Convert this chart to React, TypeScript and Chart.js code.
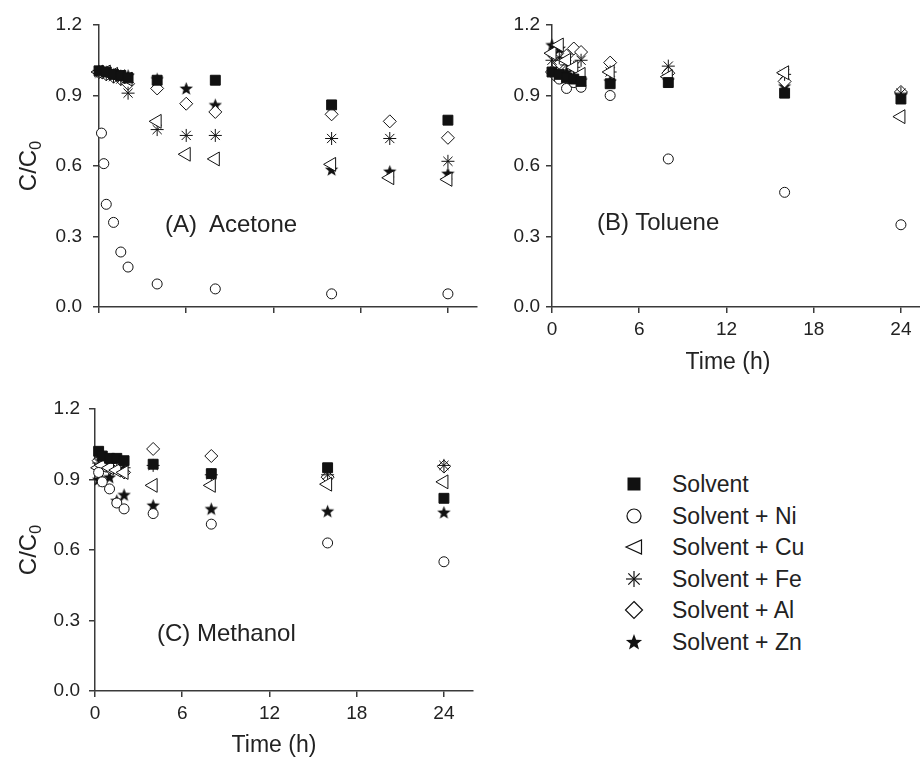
import React, { useEffect, useRef } from 'react';
import { Chart, registerables } from 'chart.js';
Chart.register(...registerables);

// ---------- data ----------
const yTicks = [0, 0.3, 0.6, 0.9, 1.2];
const xTicks = [0, 6, 12, 18, 24];
const seriesNames = ['Solvent', 'Solvent + Ni', 'Solvent + Cu', 'Solvent + Fe', 'Solvent + Al', 'Solvent + Zn'];
const panelTitles = ['(A)  Acetone', '(B) Toluene', '(C) Methanol'];
const xTitle = 'Time (h)';

// (A) Acetone
const aceSolventT = [0, 0.5, 1, 1.5, 2, 4, 8, 16, 24];
const aceSolventV = [1.005, 1.0, 0.99, 0.985, 0.975, 0.965, 0.965, 0.86, 0.795];
const aceNiT = [0.17, 0.33, 0.5, 1, 1.5, 2, 4, 8, 16, 24];
const aceNiV = [0.74, 0.61, 0.437, 0.36, 0.234, 0.17, 0.098, 0.077, 0.056, 0.056];
const aceMetalT = [0, 0.5, 1, 1.5, 2, 4, 6, 8, 16, 20, 24];
const aceCuV = [1.0, 1.0, 0.99, 0.98, 0.97, 0.79, 0.65, 0.63, 0.607, 0.55, 0.543];
const aceFeV = [1.0, 0.99, 0.98, 0.97, 0.91, 0.755, 0.73, 0.73, 0.717, 0.717, 0.62];
const aceAlV = [1.0, 0.99, 0.98, 0.97, 0.95, 0.93, 0.865, 0.83, 0.82, 0.79, 0.72];
const aceZnV = [1.0, 1.0, 0.99, 0.985, 0.985, 0.97, 0.93, 0.86, 0.585, 0.577, 0.568];

// (B) Toluene
const tolT = [0, 0.5, 1, 1.5, 2, 4, 8, 16, 24];
const tolNiT = [0.33, 0.5, 1, 1.5, 2, 4, 8, 16, 24];
const tolSolventV = [1.0, 0.99, 0.975, 0.97, 0.96, 0.95, 0.955, 0.91, 0.885];
const tolNiV = [0.98, 0.97, 0.93, 0.955, 0.935, 0.9, 0.63, 0.488, 0.35];
const tolCuV = [1.08, 1.115, 1.05, 1.02, 0.99, 1.0, 0.98, 0.997, 0.81];
const tolFeV = [1.05, 1.06, 1.03, 1.02, 1.05, 1.0, 1.025, 0.99, 0.91];
const tolAlV = [1.0, 1.04, 1.07, 1.1, 1.085, 1.04, 0.995, 0.96, 0.915];
const tolZnV = [1.115, 1.1, 1.0, 0.98, 0.965, 0.96, 0.965, 0.94, 0.9];

// (C) Methanol
const metT = [0.25, 0.5, 1, 1.5, 2, 4, 8, 16, 24];
const metSolventV = [1.02, 1.0, 0.99, 0.99, 0.98, 0.965, 0.925, 0.95, 0.82];
const metNiV = [0.93, 0.89, 0.86, 0.8, 0.775, 0.755, 0.71, 0.63, 0.55];
const metCuV = [0.95, 0.96, 0.95, 0.94, 0.93, 0.875, 0.875, 0.88, 0.89];
const metFeV = [0.97, 0.96, 0.97, 0.95, 0.95, 0.96, 0.92, 0.92, 0.96];
const metAlV = [0.98, 0.99, 0.95, 0.96, 0.93, 1.03, 1.0, 0.91, 0.955];
const metZnV = [0.9, 0.895, 0.91, 0.81, 0.835, 0.79, 0.775, 0.765, 0.76];

// ---------- styling ----------
const FONT = "'Liberation Sans', Arial, Helvetica, sans-serif";
const TEXT = '#222';
const AXIS = '#3a3a3a';

function makeStar(size: number): HTMLCanvasElement {
  const c = document.createElement('canvas');
  c.width = size;
  c.height = size;
  const ctx = c.getContext('2d')!;
  const cx = size / 2, cy = size / 2 + 0.5, R = size / 2 - 0.5, r = R * 0.42;
  ctx.beginPath();
  for (let i = 0; i < 10; i++) {
    const a = -Math.PI / 2 + (i * Math.PI) / 5;
    const rr = i % 2 === 0 ? R : r;
    ctx.lineTo(cx + rr * Math.cos(a), cy + rr * Math.sin(a));
  }
  ctx.closePath();
  ctx.fillStyle = '#111';
  ctx.fill();
  return c;
}

function seriesStyle(i: number, star: HTMLCanvasElement) {
  const base = { borderColor: '#111', borderWidth: 1, backgroundColor: '#fff', pointRotation: 0 } as any;
  switch (i) {
    case 0: return { ...base, pointStyle: 'rect', pointRadius: 7, backgroundColor: '#111' };
    case 1: return { ...base, pointStyle: 'circle', pointRadius: 5 };
    case 2: return { ...base, pointStyle: 'triangle', pointRadius: 8, pointRotation: -90 };
    case 3: return { ...base, pointStyle: 'star', pointRadius: 6.5 };
    case 4: return { ...base, pointStyle: 'rectRot', pointRadius: 6.5 };
    default: return { ...base, pointStyle: star, pointRadius: 7, backgroundColor: '#111' };
  }
}

type Series = { t: number[]; v: number[] };
type PanelCfg = {
  left: number; top: number; width: number; height: number;
  pad: { left: number; top: number; right: number; bottom: number };
  yW: number; xH: number; showX: boolean; yPad: number;
  series: Series[];
};

const panels: PanelCfg[] = [
  {
    left: 0, top: 0, width: 500, height: 340,
    pad: { left: 0, top: 25, right: 23, bottom: 0 }, yW: 99, xH: 33, showX: false, yPad: 11,
    series: [
      { t: aceSolventT, v: aceSolventV }, { t: aceNiT, v: aceNiV }, { t: aceMetalT, v: aceCuV },
      { t: aceMetalT, v: aceFeV }, { t: aceMetalT, v: aceAlV }, { t: aceMetalT, v: aceZnV },
    ],
  },
  {
    left: 460, top: 0, width: 480, height: 376,
    pad: { left: 0, top: 25, right: 10, bottom: 0 }, yW: 92, xH: 69, showX: true, yPad: 6,
    series: [
      { t: tolT, v: tolSolventV }, { t: tolNiT, v: tolNiV }, { t: tolT, v: tolCuV },
      { t: tolT, v: tolFeV }, { t: tolT, v: tolAlV }, { t: tolT, v: tolZnV },
    ],
  },
  {
    left: 0, top: 384, width: 500, height: 347,
    pad: { left: 0, top: 25, right: 27, bottom: 0 }, yW: 95, xH: 40, showX: true, yPad: 9,
    series: [
      { t: metT, v: metSolventV }, { t: metT, v: metNiV }, { t: metT, v: metCuV },
      { t: metT, v: metFeV }, { t: metT, v: metAlV }, { t: metT, v: metZnV },
    ],
  },
];

function Panel({ cfg }: { cfg: PanelCfg }) {
  const ref = useRef<HTMLCanvasElement>(null);
  useEffect(() => {
    const star = makeStar(15);
    const datasets = cfg.series.map((s, i) => ({
      label: seriesNames[i],
      data: s.t.map((t, k) => ({ x: t, y: s.v[k] })),
      showLine: false,
      clip: false as any,
      order: i,
      ...seriesStyle(i, star),
    }));
    const chart = new Chart(ref.current!, {
      type: 'scatter',
      data: { datasets: datasets as any },
      options: {
        responsive: false,
        animation: false,
        events: [],
        layout: { padding: cfg.pad },
        plugins: { legend: { display: false }, tooltip: { enabled: false } },
        scales: {
          x: {
            type: 'linear', min: 0, max: 26,
            afterBuildTicks: (s: any) => { s.ticks = xTicks.map((v) => ({ value: v })); },
            afterFit: (s: any) => { s.height = cfg.xH; },
            border: { display: true, color: AXIS, width: 1.5 },
            grid: { drawOnChartArea: false, drawTicks: true, tickLength: 6, color: AXIS, lineWidth: 1.5 },
            ticks: {
              display: cfg.showX, includeBounds: false, padding: 5, color: TEXT,
              font: { family: FONT, size: 19 }, maxRotation: 0,
              callback: (v: any) => String(v),
            },
          },
          y: {
            type: 'linear', min: 0, max: 1.2,
            afterBuildTicks: (s: any) => { s.ticks = yTicks.map((v) => ({ value: v })); },
            afterFit: (s: any) => { s.width = cfg.yW; },
            border: { display: true, color: AXIS, width: 1.5 },
            grid: { drawOnChartArea: false, drawTicks: true, tickLength: 6, color: AXIS, lineWidth: 1.5 },
            ticks: {
              padding: cfg.yPad, color: TEXT, includeBounds: false,
              font: { family: FONT, size: 19 },
              callback: (v: any) => Number(v).toFixed(1),
            },
          },
        },
      } as any,
    });
    return () => chart.destroy();
  }, []);
  return (
    <canvas
      ref={ref}
      width={cfg.width}
      height={cfg.height}
      style={{ position: 'absolute', left: cfg.left, top: cfg.top, width: cfg.width, height: cfg.height }}
    />
  );
}

function LegendMarker({ i }: { i: number }) {
  const st = { stroke: '#111', strokeWidth: 1.2, fill: '#fff' };
  let shape: React.ReactNode = null;
  if (i === 0) shape = <rect x={-6.5} y={-6.5} width={13} height={13} fill="#111" />;
  else if (i === 1) shape = <circle r={7} {...st} />;
  else if (i === 2) shape = <polygon points="-8,0 7.5,-7 7.5,7" {...st} />;
  else if (i === 3)
    shape = (
      <g stroke="#111" strokeWidth={1.2}>
        <line x1={-8} y1={0} x2={8} y2={0} />
        <line x1={0} y1={-8} x2={0} y2={8} />
        <line x1={-5.7} y1={-5.7} x2={5.7} y2={5.7} />
        <line x1={-5.7} y1={5.7} x2={5.7} y2={-5.7} />
      </g>
    );
  else if (i === 4) shape = <polygon points="0,-8.5 8.5,0 0,8.5 -8.5,0" {...st} />;
  else {
    const pts: string[] = [];
    for (let k = 0; k < 10; k++) {
      const a = -Math.PI / 2 + (k * Math.PI) / 5;
      const r = k % 2 === 0 ? 8.5 : 3.6;
      pts.push(`${(r * Math.cos(a)).toFixed(2)},${(r * Math.sin(a) + 0.6).toFixed(2)}`);
    }
    shape = <polygon points={pts.join(' ')} fill="#111" />;
  }
  return (
    <svg width={20} height={20} viewBox="-10 -10 20 20" style={{ position: 'absolute', left: -10, top: -10 }}>
      {shape}
    </svg>
  );
}

const textBase: React.CSSProperties = {
  position: 'absolute', fontFamily: FONT, color: TEXT, whiteSpace: 'pre', lineHeight: 1,
};

export default function App() {
  const legendTop = 484;
  const legendStep = 31.6;
  return (
    <div style={{ position: 'absolute', left: 0, top: 0, width: 920, height: 757, overflow: 'hidden', background: '#fff' }}>
      {panels.map((p, i) => <Panel key={i} cfg={p} />)}

      {/* panel annotations */}
      <div style={{ ...textBase, left: 165, top: 224, fontSize: 24, transform: 'translateY(-50%)' }}>{panelTitles[0]}</div>
      <div style={{ ...textBase, left: 597, top: 222, fontSize: 24, transform: 'translateY(-50%)' }}>{panelTitles[1]}</div>
      <div style={{ ...textBase, left: 157, top: 633, fontSize: 24, transform: 'translateY(-50%)' }}>{panelTitles[2]}</div>

      {/* x titles */}
      <div style={{ ...textBase, left: 728, top: 361, fontSize: 23, transform: 'translate(-50%,-50%)' }}>{xTitle}</div>
      <div style={{ ...textBase, left: 274, top: 744, fontSize: 23, transform: 'translate(-50%,-50%)' }}>{xTitle}</div>

      {/* y titles */}
      {[166, 550].map((cy, k) => (
        <div key={k} style={{ ...textBase, left: 30, top: cy, fontSize: 24, transform: 'translate(-50%,-50%) rotate(-90deg)' }}>
          C/C<sub style={{ fontSize: 16, verticalAlign: '-0.3em' }}>0</sub>
        </div>
      ))}

      {/* legend */}
      {seriesNames.map((name, i) => (
        <div key={name} style={{ position: 'absolute', left: 634, top: legendTop + i * legendStep, width: 0, height: 0 }}>
          <LegendMarker i={i} />
          <div style={{ ...textBase, left: 38, top: 0, fontSize: 23, transform: 'translateY(-50%)' }}>{name}</div>
        </div>
      ))}
    </div>
  );
}
